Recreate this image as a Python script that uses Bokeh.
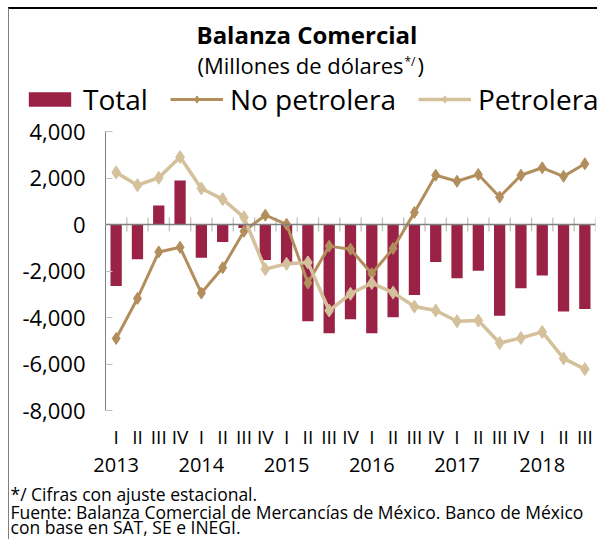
import math
from bokeh.plotting import figure
from bokeh.models import (Range1d, FixedTicker, NumeralTickFormatter, LinearAxis,
                          Label, Legend, LegendItem, ColumnDataSource, Span)
from bokeh.embed import file_html
from bokeh.resources import INLINE

# ---- data ----
quarters = ["I", "II", "III", "IV"] * 5 + ["I", "II", "III"]
years = ["2013", "2014", "2015", "2016", "2017", "2018"]
total = [-2640, -1490, 820, 1890, -1430, -750, -150, -1530, -1690, -4160, -4680,
         -4070, -4680, -3990, -3030, -1610, -2310, -1990, -3930, -2740, -2190, -3740, -3630]
no_petrolera = [-4900, -3180, -1180, -980, -2950, -1860, -290, 400, 10, -2520, -930,
                -1060, -2120, -1030, 520, 2120, 1860, 2150, 1180, 2120, 2440, 2070, 2610]
petrolera = [2240, 1690, 2010, 2900, 1550, 1090, 310, -1920, -1690, -1630, -3700,
             -2980, -2520, -2930, -3530, -3700, -4160, -4130, -5100, -4880, -4620, -5760, -6220]
y_ticks = [-8000, -6000, -4000, -2000, 0, 2000, 4000]
series_names = ["Total", "No petrolera", "Petrolera"]
notes = ["*/ Cifras con ajuste estacional.",
         "Fuente: Balanza Comercial de Mercancías de México. Banco de México",
         "con base en SAT, SE e INEGI."]

FONT = "Open Sans"
WINE = "#9B2247"
GOLD = "#B38E5D"
BEIGE = "#D4C19C"
W = 589
NAN = float("nan")

n = len(quarters)
centers = [i + 0.5 for i in range(n)]
boundaries = [i for i in range(1, n + 1)]
year_pos = [i + 0.5 for i, q in enumerate(quarters) if q == "I"]

LEFT = {"margin-left": "8px", "border-left": "1px solid #7f7f7f"}


def blank(height, styles):
    f = figure(width=W, height=height, output_backend="svg", toolbar_location=None,
               x_range=Range1d(0, 1), y_range=Range1d(0, 1),
               x_axis_location=None, y_axis_location=None, min_border=0)
    f.grid.visible = False
    f.outline_line_color = None
    f.styles = styles
    return f


def lab(f, text, x, y, size, align="left", style="normal"):
    f.add_layout(Label(text=text, x=x, y=y, x_units="screen", y_units="screen",
                       text_align=align, text_baseline="middle", text_font=FONT,
                       text_font_size=size, text_font_style=style,
                       text_color="#000000"))


# ---- header: title, subtitle, legend ----
head = blank(109, dict(LEFT, **{"margin-top": "7px", "border-top": "2px solid #000000"}))
lab(head, "Balanza Comercial", 187, 84.5, "24px", style="bold")
lab(head, "(Millones de dólares", 188, 53.5, "22px")
lab(head, "*/", 395, 57, "12px")
lab(head, ")", 408, 53.5, "22px")

hb = head.vbar(x=[NAN], top=[NAN], width=0.5, fill_color=WINE, line_color=None)
hl1 = head.line(x=[NAN], y=[NAN], line_color=GOLD, line_width=3)
hs1 = head.scatter(x=[NAN], y=[NAN], marker="diamond", size=10, fill_color=GOLD, line_color=GOLD)
hl2 = head.line(x=[NAN], y=[NAN], line_color=BEIGE, line_width=3.5)
hs2 = head.scatter(x=[NAN], y=[NAN], marker="diamond", size=10, fill_color=BEIGE, line_color=BEIGE)
legend = Legend(items=[LegendItem(label=series_names[0], renderers=[hb]),
                       LegendItem(label=series_names[1], renderers=[hl1, hs1]),
                       LegendItem(label=series_names[2], renderers=[hl2, hs2])],
                orientation="horizontal", location=(14, 0),
                glyph_width=53, glyph_height=18, label_standoff=7, spacing=22,
                padding=0, margin=0, border_line_color=None, background_fill_alpha=0,
                label_text_font=FONT, label_text_font_size="28px",
                label_text_color="#000000")
head.add_layout(legend)

# ---- main chart ----
src = ColumnDataSource(dict(x=centers, total=total, nop=no_petrolera, pet=petrolera))

p = figure(width=W, height=360, output_backend="svg", toolbar_location=None,
           x_range=Range1d(0, n), y_range=Range1d(min(y_ticks), max(y_ticks)),
           min_border_left=96, min_border_right=3, min_border_top=15,
           min_border_bottom=66)
p.styles = dict(LEFT)
p.grid.visible = False
p.outline_line_color = None

p.add_layout(Span(location=0, dimension="width", line_color="#808080", line_width=1.5))
p.scatter(x=boundaries, y=[0] * len(boundaries), marker="dash", angle=math.pi / 2,
          size=14, line_color="#c0c0c0", line_width=1.3)

p.vbar(x="x", top="total", bottom=0, width=0.53, source=src,
       fill_color=WINE, line_color=None)
p.line(x="x", y="nop", source=src, line_color=GOLD, line_width=3)
p.scatter(x="x", y="nop", source=src, marker="diamond", size=12,
          fill_color=GOLD, line_color=GOLD)
p.line(x="x", y="pet", source=src, line_color=BEIGE, line_width=3.5)
p.scatter(x="x", y="pet", source=src, marker="diamond", size=13,
          fill_color=BEIGE, line_color=BEIGE)

ya = p.yaxis[0]
ya.ticker = FixedTicker(ticks=y_ticks)
ya.formatter = NumeralTickFormatter(format="0,0")
ya.major_tick_in = 7
ya.major_tick_out = 0
ya.minor_tick_line_color = None
ya.axis_line_color = "#808080"
ya.major_tick_line_color = "#c0c0c0"
ya.major_label_text_font = FONT
ya.major_label_text_font_size = "22px"
ya.major_label_text_color = "#000000"
ya.major_label_standoff = 20

xa = p.xaxis[0]
xa.ticker = FixedTicker(ticks=centers)
xa.major_label_overrides = {c: q for c, q in zip(centers, quarters)}
xa.axis_line_color = None
xa.major_tick_line_color = None
xa.minor_tick_line_color = None
xa.major_tick_in = 0
xa.major_tick_out = 0
xa.major_label_text_font = FONT
xa.major_label_text_font_size = "19px"
xa.major_label_text_color = "#000000"
xa.major_label_standoff = 13

yr = LinearAxis(ticker=FixedTicker(ticks=year_pos),
                major_label_overrides={c: y for c, y in zip(year_pos, years)})
yr.axis_line_color = None
yr.major_tick_line_color = None
yr.minor_tick_line_color = None
yr.major_tick_in = 0
yr.major_tick_out = 0
yr.major_label_text_font = FONT
yr.major_label_text_font_size = "20px"
yr.major_label_text_color = "#000000"
yr.major_label_standoff = 5
p.add_layout(yr, "below")

# ---- footer: notes ----
foot = blank(63, dict(LEFT))
for t, ys in zip(notes, [46, 28, 12.5]):
    lab(foot, t, 1, ys, "17.5px")

open("out.html", "w").write(file_html([head, p, foot], INLINE))
